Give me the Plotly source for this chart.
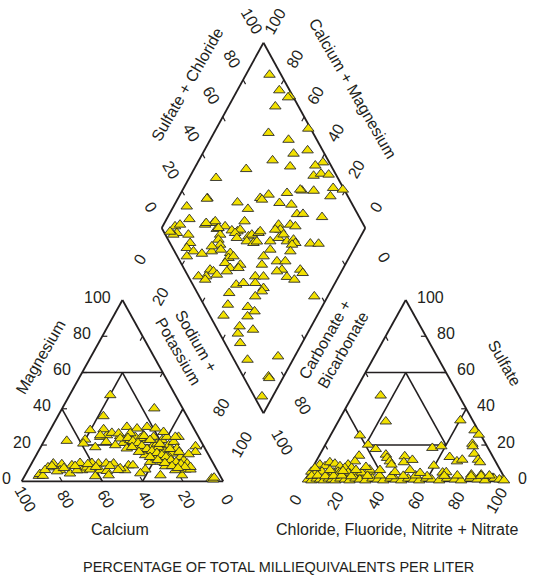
import numpy as np
import plotly.graph_objects as go

# ---------------- data (percent of total milliequivalents) ----------------
# cation triangle: calcium and magnesium (sodium + potassium = remainder)
cat_ca = [90, 89, 88, 66.5, 79.4, 75.4, 77.9, 70.7, 73.9, 66, 67, 63.9, 60.1, 62.8, 57, 58, 53.2, 54.9, 49.5, 55.2,
          42.6, 40.4, 35.4, 29.5, 18.8, 15.5, 13, 4.1, 5.7, 5, 4.5, 3.5, 48.8, 45, 38.7, 38.9, 38.8, 34.8, 31.4, 32.8,
          26.8, 26.5, 25.8, 22.3, 22.4, 19, 21, 15.7, 17.1, 17.7, 13.7, 13.9, 14.5, 13.8, 9.9, 13, 12.3, 9.7, 24.5, 26.9,
          30.9, 25, 21.7, 19.7, 17.3, 32.3, 14.1, 41.5, 51.9, 45, 41.9, 38.7, 32.8, 28.2, 22.8, 19.1, 16, 11.5, 48.3, 57,
          47.2, 39.3, 59, 32.6, 31.5, 26.8, 24.6, 20.7, 19.9, 28.6, 22.8, 32.9, 29.2, 43.6, 54.1, 45.6, 38.9, 47.5, 62.1,
          69.5, 79.7, 83.1,
          35.3, 33.7, 31.7, 30.6, 28.9, 27, 25.1, 23.2, 21.7, 20.1, 18.1, 16.2, 15.1, 35.8, 33.7, 29.6, 26.6, 23.9,
          21.2, 18.8, 26.8, 24.9, 21.1, 17.5, 13.8,
          85.3, 80.8, 75.4, 69.3, 62.4, 59.2, 52.0, 49.1]
cat_mg = [3, 4, 3, 22.3, 9.8, 9.4, 6.1, 8.8, 4.3, 10.1, 6.1, 7.6, 10.1, 6.5, 9.8, 6.1, 9.8, 5.7, 9.8, 3.3,
          8.8, 8.8, 6.5, 3.3, 3.3, 6.5, 6.5, 19.3, 16.2, 1.5, 1, 2, 24.5, 25.4, 24.9, 21.2, 18.1, 22.7, 24.5, 19.9,
          25.4, 22.7, 19, 24.5, 20.8, 22.7, 17.1, 24.5, 19.9, 15.3, 21.7, 18.1, 13.4, 11.6, 24.5, 9.8, 7.9, 14.9, 13.4, 15.3,
          10.7, 10.7, 10.7, 9.8, 7.9, 47.5, 40.2, 35.9, 28.2, 28.7, 26.7, 26.4, 30, 29.1, 30, 29.1, 27.2, 24.5, 25.4, 23,
          21.7, 23.6, 20.8, 17.1, 14.4, 12.7, 8.3, 6.1, 12.7, 17.1, 18.8, 26.5, 23.8, 19.9, 18.8, 6.1, 4.4, 7.2, 2.8,
          6.1, 5.5, 7.7,
          23.9, 22.2, 21.1, 19.5, 17.8, 16.7, 15.6, 14.5, 13.4, 11.7, 10.6, 9.5, 7.9, 18.9, 16.2, 13.4, 11.7, 10.1,
          8.4, 7.3, 25.0, 22.8, 20.6, 17.8, 16.2,
          6.2, 8.4, 7.3, 8.4, 9.5, 7.9, 8.4, 6.2]

# anion triangle: chloride (+fluoride, nitrite, nitrate) and sulfate
an_cl = [13.9, 23.6, 14.6, 21.2, 26.2, 54, 58, 60.3, 70.1, 73.4, 72.7, 73.6, 65.1, 69.9, 72.1, 76.4, 79.9, 81.6,
         32.8, 34.3, 36.6, 38.3, 42.6, 43.8, 47.4, 59.6, 19.8, 19.3, 16.8, 19.4, 2.8, 5.8, 7.1, 10, 13.2, 16.1,
         0.5, 2.9, 5.8, 10.5, 13.7, 20.2, 23.1, 26.4, 29.5, 65.9, 67.6, 80.7, 85.6, 90.2, 92.3, 97.7,
         28.9, 11.6, 14.9, 19, 23.2, 25.7,
         1, 3, 5, 7, 9, 11, 12.9, 14.8, 16.8, 19.3, 21.8, 24.3, 26.7, 29.7, 32.7, 35.6, 38.6, 41.6, 44.5, 47.5,
         50.5, 53.5, 56.4, 59.4, 62.4, 66.3, 69.8, 73.8, 77.2, 81.2, 85.1, 89.1, 93.1, 96, 98.5,
         1.8, 4.7, 8.7, 12.7, 16.6, 21.6, 29.5, 35.4, 41.4, 47.3, 53.3, 59.2, 67.6, 74.0, 81.0, 85.9, 89.9,
         1.3, 9.3, 16.0, 22.2, 26.3, 34.1, 42.1, 49.0, 54.8]
an_so4 = [47.3, 33, 25.3, 20.2, 17.8, 18.4, 19.3, 33.6, 28.1, 25.7, 20.7, 19.3, 13.4, 11, 11.9, 15.2, 11.9, 10.5,
          14.7, 12.9, 11, 9.2, 13.8, 10.5, 11.8, 8.6, 14.1, 11, 9.2, 7.4, 9.2, 8.3, 10.5, 9.7, 8.3, 7.4,
          5.3, 4.2, 5.3, 3.7, 5.3, 4.2, 5.3, 3.7, 5.3, 4.8, 5, 3.7, 3.7, 2.8, 1.9, 0.9,
          6.4, 4.8, 4.8, 4.8, 4.8, 4.8,
          1, 0.5, 1.5, 1, 0.5, 1.5, 1, 0.5, 1.5, 1, 0.5, 1.5, 1, 0.5, 1.5, 1, 0.5, 1.5, 1, 0.5,
          1.5, 1, 0.5, 1.5, 1, 0.5, 1.5, 1, 0.5, 1.5, 1, 0.5, 1.5, 1, 0.5,
          3, 3.2, 2.8, 3, 3.2, 2.8, 3, 3.2, 2.8, 3, 3.2, 2.8, 3, 3.2, 2.8, 3, 3.2,
          7.3, 6.2, 5.7, 6.2, 7.9, 6.2, 5.1, 6.2, 4.6]

# diamond: sodium + potassium and sulfate + chloride
dia_nak = [11.6, 20.6, 27.4, 26.8, 23.0, 45.2, 26.8, 38.5, 44.7, 50.7, 36.2, 46.5, 61.5, 58.6, 25.6, 13.2, 60.5,
           63.6, 67.6, 73.4, 78.6, 58.8, 57.7, 64.6, 52.1, 43.5, 40.3, 14.4, 74.3, 41.6, 30.3, 6.5, 51.1, 57.4,
           37.2, 62.7, 65.6, 75.8, 11.2, 6.1, 8.1, 8.8, 7.5, 20.4, 24.1, 24.5, 30.7, 35.1, 38.1, 39.0, 38.9, 27.3,
           30.5, 31.0, 14.9, 18.0, 17.7, 21.9, 20.0, 26.7, 30.9, 33.2, 34.9, 40.4, 40.9, 42.9, 37.4, 39.6, 44.9,
           46.1, 45.4, 49.1, 50.4, 48.9, 49.3, 56.5, 58.7, 62.2, 65.2, 56.2, 56.9, 60.1, 61.6, 65.1, 67.9, 69.7,
           68.5, 77.2, 81.3, 59.2, 57.7, 59.1, 65.6, 69.7, 70.3, 68.3, 69.5, 79.3, 81.4, 74.7, 79.1, 40.6, 44.4,
           43.7, 48.5, 48.5, 35.0, 37.1, 39.7, 34.9, 31.1, 35.3, 51.9, 55.0, 59.0, 63.1, 60.8, 66.2, 66.3, 50.7,
           64.4, 93.4, 53.2, 63.6, 68.1, 54.0, 66.0, 64.8, 72.3, 65.9, 69.6, 77.7, 91.8, 92.5, 93.3, 94.7, 14.3,
           29.6, 20.5, 27.9, 5.1]
dia_so4cl = [94.3, 94.9, 98.5, 97.3, 88.6, 98.8, 78.1, 86.1, 84.8, 92.6, 72.7, 79.7, 96.9, 92.3, 57.4, 40.2, 88.7,
             92.9, 96.4, 95.0, 99.3, 79.0, 78.4, 84.7, 71.0, 61.5, 56.5, 30.5, 91.4, 56.9, 44.1, 18.1, 64.6, 70.0,
             47.5, 70.2, 73.2, 81.7, 16.0, 7.0, 9.9, 6.1, 3.9, 22.2, 26.8, 28.1, 31.6, 33.8, 36.3, 38.1, 42.5, 26.8,
             26.9, 24.7, 11.3, 9.9, 6.9, 9.3, 4.7, 12.8, 18.3, 24.2, 23.2, 26.9, 24.7, 27.6, 34.7, 34.2, 40.4,
             42.5, 38.2, 41.0, 43.1, 46.2, 47.5, 58.3, 57.8, 64.0, 66.1, 55.3, 49.7, 54.7, 58.1, 57.9, 61.6, 61.6,
             59.5, 68.8, 72.8, 47.5, 42.4, 39.3, 47.6, 51.7, 47.8, 44.9, 56.9, 56.8, 57.1, 48.3, 51.2, 21.7, 22.8,
             20.3, 28.7, 26.9, 12.5, 13.7, 14.5, 8.8, 5.0, 7.4, 21.3, 25.3, 32.9, 36.9, 31.1, 33.8, 32.1, 15.6,
             27.5, 56.5, 11.8, 21.0, 23.1, 6.7, 18.3, 11.7, 17.4, 8.9, 7.5, 6.6, 22.5, 12.4, 12.3, 3.8, 30.1,
             19.7, 23.2, 27.9, 3.1]

tick_values = [0, 20, 40, 60, 80, 100]

# ---------------- geometry (page pixels) ----------------
W, HGT = 538, 578
SIDE, H, BASE = 201.5, 181.3, 481.3
CAT_X0, AN_X0 = 21.7, 305.0
D_CX, D_CY, D_HW, D_HH = 263.5, 228.0, 101.8, 185.3
INK = "#231f20"
FONT = "Liberation Sans, Arial, Helvetica, sans-serif"
FS = 16

UX, UY = 0.486, 0.874     # unit vector along the triangle edges
DX, DY = 0.4815, 0.8765   # unit vector along the diamond edges


def tri_xy(x0, right, top):
    r = np.asarray(right, dtype=float) / 100.0
    t = np.asarray(top, dtype=float) / 100.0
    return x0 + SIDE * (r + t / 2.0), BASE - H * t


def dia_xy(nak, so4cl):
    a = np.asarray(nak, dtype=float) / 100.0
    b = np.asarray(so4cl, dtype=float) / 100.0
    return (D_CX - D_HW) + D_HW * (a + b), D_CY + D_HH * (a - b)


shapes = []


def seg(p, q, w=1.6):
    shapes.append(dict(type="line", x0=float(p[0]), y0=float(p[1]), x1=float(q[0]), y1=float(q[1]),
                       xref="x", yref="y", layer="below", line=dict(color=INK, width=w)))


def tri_frame(x0):
    P = lambda r, t: tri_xy(x0, r, t)
    seg(P(0, 0), P(100, 0), 1.8); seg(P(100, 0), P(0, 100), 1.8); seg(P(0, 100), P(0, 0), 1.8)
    seg(P(0, 60), P(40, 60)); seg(P(0, 40), P(40, 0)); seg(P(60, 0), P(60, 40))
    seg(P(20, 20), P(60, 20)); seg(P(60, 20), P(20, 60)); seg(P(20, 60), P(20, 20))


tri_frame(CAT_X0)
tri_frame(AN_X0)

# diamond outline
L = dia_xy(0, 0); B = dia_xy(100, 0); T = dia_xy(0, 100); R = dia_xy(100, 100)
seg(L, T, 1.8); seg(T, R, 1.8); seg(R, B, 1.8); seg(B, L, 1.8)

TL = 5.0
for v in [20, 40, 60, 80]:
    # cation triangle ticks
    x, y = tri_xy(CAT_X0, 0, v); seg((x, y), (x + TL, y), 1.2)
    x, y = tri_xy(CAT_X0, v, 0); seg((x, y), (x - TL * UX, y - TL * UY), 1.2)
    x, y = tri_xy(CAT_X0, v, 100 - v); seg((x, y), (x - TL * UX, y + TL * UY), 1.2)
    # anion triangle ticks
    x, y = tri_xy(AN_X0, 0, v); seg((x, y), (x + TL * UX, y + TL * UY), 1.2)
    x, y = tri_xy(AN_X0, v, 0); seg((x, y), (x + TL * UX, y - TL * UY), 1.2)
    x, y = tri_xy(AN_X0, 100 - v, v); seg((x, y), (x - TL, y), 1.2)
    # diamond ticks
    x, y = dia_xy(0, v); seg((x, y), (x + TL * DX, y + TL * DY), 1.2)
    x, y = dia_xy(v, 100); seg((x, y), (x - TL * DX, y + TL * DY), 1.2)
    x, y = dia_xy(v, 0); seg((x, y), (x + TL * DX, y - TL * DY), 1.2)
    x, y = dia_xy(100, v); seg((x, y), (x - TL * DX, y - TL * DY), 1.2)

ann = []


def text(x, y, s, angle=0, xa="center", size=FS):
    ann.append(dict(x=float(x), y=float(y), text=s, showarrow=False, textangle=angle, xanchor=xa, yanchor="middle",
                    xref="x", yref="y", font=dict(family=FONT, size=size, color=INK)))


for v in tick_values:
    x, y = tri_xy(CAT_X0, 0, v); text(x - 9, y - 3, str(v), xa="right")           # magnesium
    x, y = tri_xy(CAT_X0, 100 - v, 0); text(x + 4, y + 18, str(v), 60)            # calcium
    x, y = tri_xy(AN_X0, v, 0); text(x - 10, y + 19, str(v), -60)                 # chloride
    x, y = tri_xy(AN_X0, 100 - v, v); text(x + 9, y - 3, str(v), xa="left")       # sulfate
    x, y = dia_xy(0, v); text(x - 24 * DX, y - 24 * DY, str(v), 60)               # sulfate + chloride
    x, y = dia_xy(100 - v, 100); text(x + 24 * DX, y - 24 * DY, str(v), -60)      # calcium + magnesium
    if v in (0, 20, 80, 100):
        x, y = dia_xy(v, 0); text(x - 22, y + 31, str(v), -60)                    # sodium + potassium
    if v in (0, 80, 100):
        x, y = dia_xy(100, 100 - v); text(x + 19, y + 29, str(v), 60)             # carbonate + bicarbonate

text(40, 357, "Magnesium", -60)
text(187, 346, "Sodium +<br>Potassium", 60)
text(120, 529, "Calcium")
text(397, 529, "Chloride, Fluoride, Nitrite + Nitrate")
text(334, 345, "Carbonate +<br>Bicarbonate", -60)
text(505, 363, "Sulfate", 60)
text(187, 84, "Sulfate + Chloride", -60)
text(353, 88, "Calcium + Magnesium", 60)
text(278, 567, "PERCENTAGE OF TOTAL MILLIEQUIVALENTS PER LITER", size=14.5)

# ---------------- points ----------------
cat_na = 100 - np.asarray(cat_ca) - np.asarray(cat_mg)
cx, cy = tri_xy(CAT_X0, cat_na, cat_mg)
ax_, ay_ = tri_xy(AN_X0, an_cl, an_so4)
dx_, dy_ = dia_xy(dia_nak, dia_so4cl)

mk = dict(symbol="triangle-up", size=10, color="#f2e100", line=dict(color="#2a2a2a", width=0.9))
fig = go.Figure()
for xs, ys in [(cx, cy), (ax_, ay_), (dx_, dy_)]:
    fig.add_trace(go.Scatter(x=xs, y=ys, mode="markers", marker=mk, hoverinfo="skip"))

fig.update_layout(
    width=W, height=HGT, margin=dict(l=0, r=0, t=0, b=0), autosize=False,
    paper_bgcolor="white", plot_bgcolor="white", showlegend=False,
    xaxis=dict(range=[0, W], visible=False, fixedrange=True),
    yaxis=dict(range=[HGT, 0], visible=False, fixedrange=True),
    shapes=shapes, annotations=ann,
)
fig.write_html("out.html", config={"displayModeBar": False},
               post_script="document.body.style.margin='0';document.body.style.padding='0';")
